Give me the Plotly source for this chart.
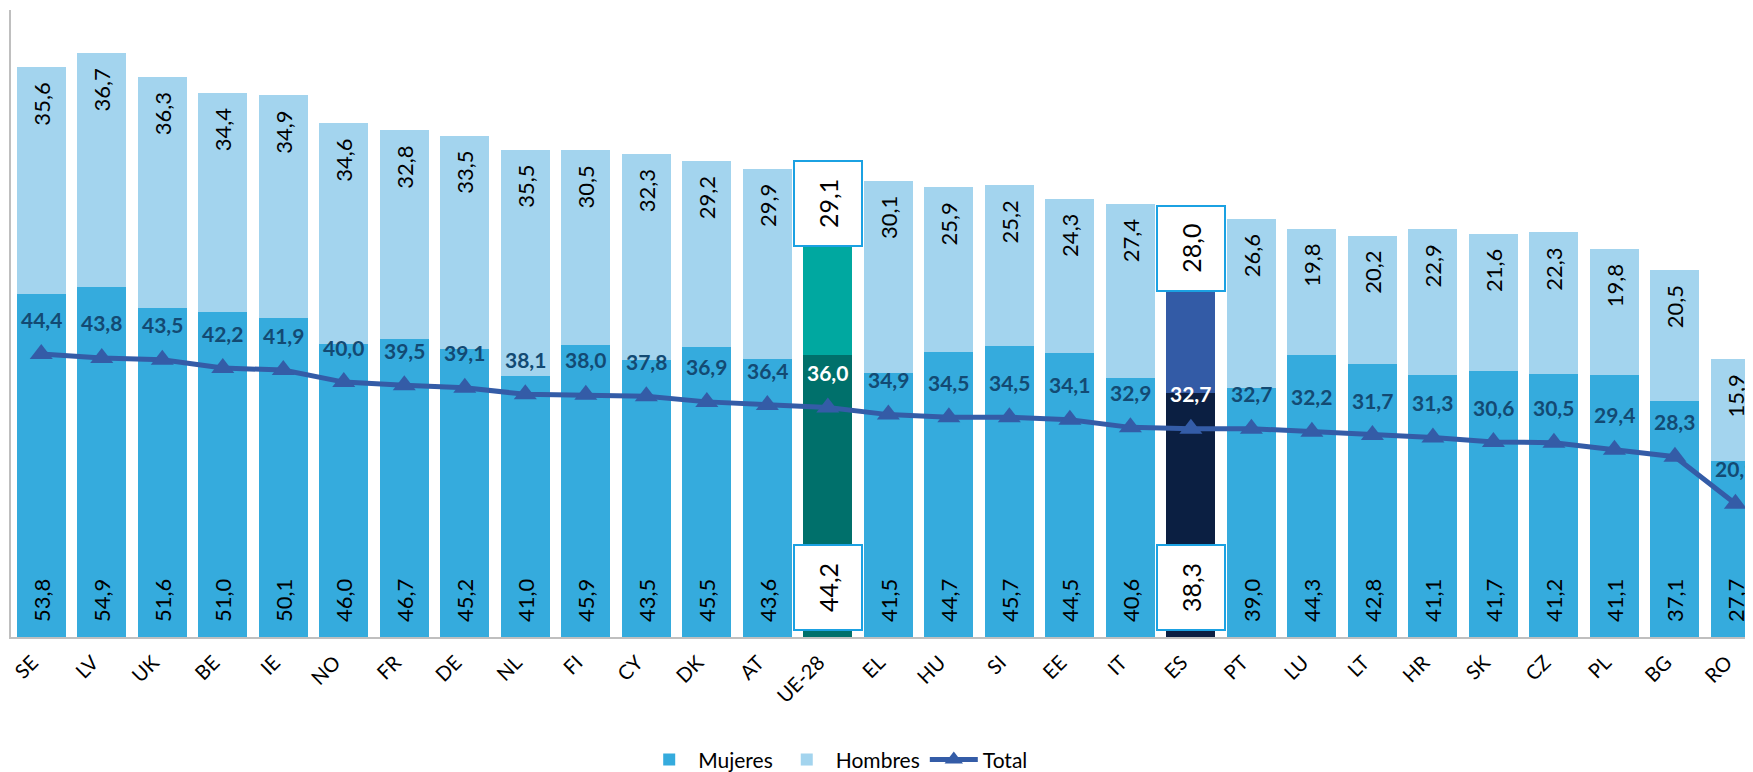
import plotly.graph_objects as go

categories = ["SE", "LV", "UK", "BE", "IE", "NO", "FR", "DE", "NL", "FI", "CY", "DK", "AT", "UE-28",
              "EL", "HU", "SI", "EE", "IT", "ES", "PT", "LU", "LT", "HR", "SK", "CZ", "PL", "BG", "RO"]
mujeres = [53.8, 54.9, 51.6, 51.0, 50.1, 46.0, 46.7, 45.2, 41.0, 45.9, 43.5, 45.5, 43.6, 44.2,
           41.5, 44.7, 45.7, 44.5, 40.6, 38.3, 39.0, 44.3, 42.8, 41.1, 41.7, 41.2, 41.1, 37.1, 27.7]
hombres = [35.6, 36.7, 36.3, 34.4, 34.9, 34.6, 32.8, 33.5, 35.5, 30.5, 32.3, 29.2, 29.9, 29.1,
           30.1, 25.9, 25.2, 24.3, 27.4, 28.0, 26.6, 19.8, 20.2, 22.9, 21.6, 22.3, 19.8, 20.5, 15.9]
total = [44.4, 43.8, 43.5, 42.2, 41.9, 40.0, 39.5, 39.1, 38.1, 38.0, 37.8, 36.9, 36.4, 36.0,
         34.9, 34.5, 34.5, 34.1, 32.9, 32.7, 32.7, 32.2, 31.7, 31.3, 30.6, 30.5, 29.4, 28.3, 20.9]

highlight = {"UE-28": ("#00706B", "#00A8A0"), "ES": ("#0B1F42", "#335BA6")}

C_MUJ = "#35ABDD"
C_HOM = "#A3D4EE"
C_LINE = "#345CA7"
C_TOT = "#134A73"
C_BOX = "#1BA1E2"
FONT = "Lato"

YMAX = 98.4
PLOT_H = 627
PX = YMAX / PLOT_H  # data units per pixel


def fmt(v):
    return f"{v:.1f}".replace(".", ",")


muj_colors = [highlight[c][0] if c in highlight else C_MUJ for c in categories]
hom_colors = [highlight[c][1] if c in highlight else C_HOM for c in categories]

fig = go.Figure()
fig.add_trace(go.Bar(x=categories, y=mujeres, name="Mujeres",
                     marker=dict(color=muj_colors, line=dict(width=0)),
                     width=0.81, hoverinfo="skip"))
fig.add_trace(go.Bar(x=categories, y=hombres, name="Hombres",
                     marker=dict(color=hom_colors, line=dict(width=0)),
                     width=0.81, hoverinfo="skip"))

# value labels inside the bars (transparent helper bars, overlay since base set)
PAD = 12 * PX
norm = [i for i, c in enumerate(categories) if c not in highlight]
fig.add_trace(go.Bar(
    x=[categories[i] for i in norm], base=[PAD for i in norm],
    y=[mujeres[i] - 2 * PAD for i in norm],
    text=[fmt(mujeres[i]) for i in norm], textposition="inside", insidetextanchor="start",
    textangle=-90, textfont=dict(family=FONT, size=22, color="black"),
    marker=dict(color="rgba(0,0,0,0)", line=dict(width=0)), width=0.81,
    showlegend=False, hoverinfo="skip", cliponaxis=False))
fig.add_trace(go.Bar(
    x=[categories[i] for i in norm], base=[mujeres[i] + PAD for i in norm],
    y=[hombres[i] - 2 * PAD for i in norm],
    text=[fmt(hombres[i]) for i in norm], textposition="inside", insidetextanchor="end",
    textangle=-90, textfont=dict(family=FONT, size=22, color="black"),
    marker=dict(color="rgba(0,0,0,0)", line=dict(width=0)), width=0.81,
    showlegend=False, hoverinfo="skip", cliponaxis=False))

# boxed labels for UE-28 and ES
BOX_H = 85 * PX
bx, bbase, btext = [], [], []
for i, c in enumerate(categories):
    if c in highlight:
        bx += [c, c]
        bbase += [7 * PX, mujeres[i] + hombres[i] + 9 * PX - BOX_H]
        btext += [fmt(mujeres[i]), fmt(hombres[i])]
fig.add_trace(go.Bar(
    x=bx, base=bbase, y=[BOX_H] * len(bx), text=btext, textposition="inside",
    insidetextanchor="middle", textangle=-90,
    textfont=dict(family=FONT, size=25, color="black"),
    marker=dict(color="white", line=dict(width=2, color=C_BOX)), width=1.13,
    showlegend=False, hoverinfo="skip", cliponaxis=False))

fig.add_trace(go.Scatter(x=categories, y=total, name="Total", mode="lines+markers",
                         line=dict(color=C_LINE, width=5),
                         marker=dict(symbol="triangle-up", size=20, color=C_LINE), hoverinfo="skip"))

annotations = []
for c, t in zip(categories, total):
    tcol = "white" if c in highlight else C_TOT
    annotations.append(dict(x=c, y=t, text="<b>" + fmt(t) + "</b>", showarrow=False,
                            yanchor="middle", xanchor="center", yshift=35,
                            font=dict(family=FONT, size=21, color=tcol)))

# the page body adds an 8 px offset; the figure is sized to fill the rest of the window
fig.update_layout(
    width=1745, height=764,
    margin=dict(l=3, r=0, t=2, b=135, autoexpand=False),
    barmode="stack",
    plot_bgcolor="white", paper_bgcolor="white",
    font=dict(family=FONT, size=20, color="black"),
    showlegend=True,
    legend=dict(orientation="h", x=0.474, xanchor="center", y=-0.196, yanchor="middle",
                font=dict(family=FONT, size=21, color="black"), traceorder="normal",
                itemwidth=48),
    annotations=annotations,
    xaxis=dict(range=[-0.5, 28.29], tickangle=-45, showline=True, linecolor="#BFBFBF", linewidth=2,
               showgrid=False, ticks="", ticklabelshift=-9, ticklabelstandoff=4, automargin=False,
               tickfont=dict(family=FONT, size=20, color="black")),
    yaxis=dict(range=[0, YMAX], showline=True, linecolor="#BFBFBF", linewidth=2, showgrid=False,
               showticklabels=False, ticks="", zeroline=False, automargin=False),
)

fig.write_html("out.html")
